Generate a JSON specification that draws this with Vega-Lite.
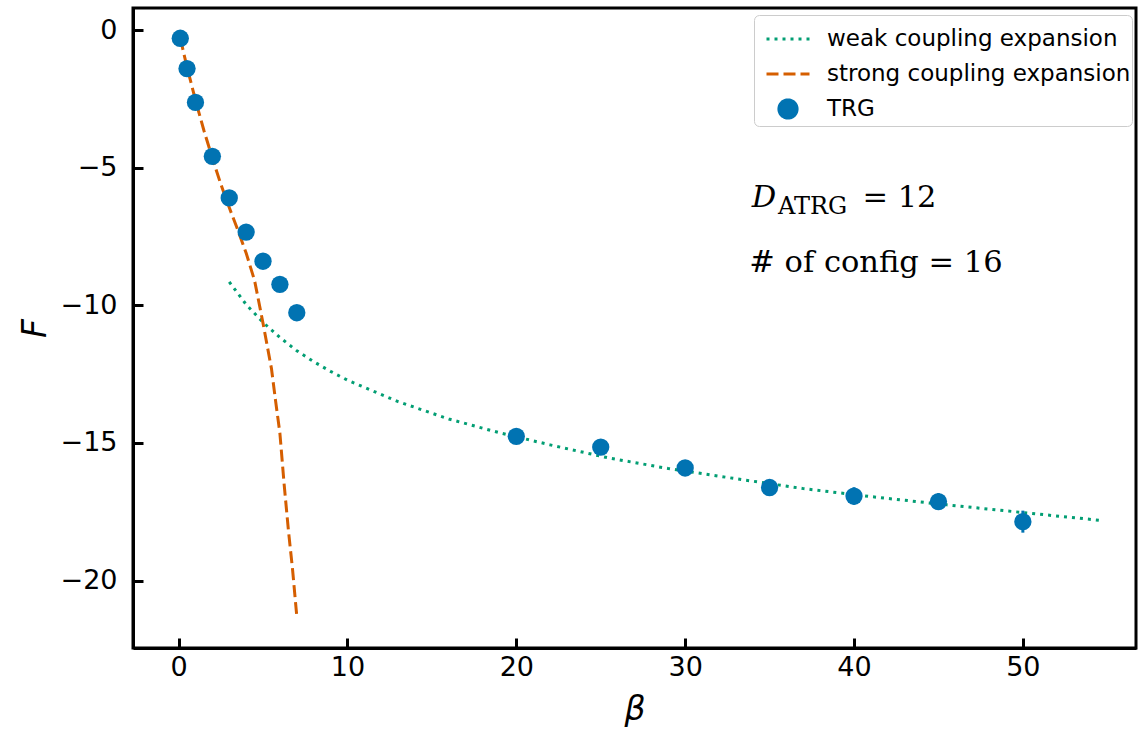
{
  "$schema": "https://vega.github.io/schema/vega-lite/v6.json",
  "width": 1003,
  "height": 640,
  "autosize": {"type": "none"},
  "padding": {"left": 133, "top": 8, "right": 2, "bottom": 84},
  "background": "white",
  "config": {
    "view": {"stroke": "black", "strokeWidth": 3},
    "axis": {
      "grid": false,
      "domainColor": "black",
      "domainWidth": 3,
      "tickColor": "black",
      "tickWidth": 3,
      "tickSize": -10,
      "labelFont": "DejaVu Sans",
      "labelFontSize": 27,
      "labelColor": "black",
      "labelExpr": "replace(datum.label, '-', '\u2212')",
      "titleFont": "DejaVu Sans",
      "titleFontSize": 33,
      "titleFontWeight": "normal",
      "titleFontStyle": "italic",
      "titleColor": "black"
    }
  },
  "datasets": {
    "weak": [
      {"beta": 3.0, "F": -9.15, "series": "weak coupling expansion"},
      {"beta": 4.0, "F": -9.97, "series": "weak coupling expansion"},
      {"beta": 5.0, "F": -10.62, "series": "weak coupling expansion"},
      {"beta": 6.0, "F": -11.17, "series": "weak coupling expansion"},
      {"beta": 7.0, "F": -11.65, "series": "weak coupling expansion"},
      {"beta": 8.0, "F": -12.05, "series": "weak coupling expansion"},
      {"beta": 9.0, "F": -12.4, "series": "weak coupling expansion"},
      {"beta": 10.0, "F": -12.72, "series": "weak coupling expansion"},
      {"beta": 13.0, "F": -13.5, "series": "weak coupling expansion"},
      {"beta": 16.0, "F": -14.13, "series": "weak coupling expansion"},
      {"beta": 19.0, "F": -14.63, "series": "weak coupling expansion"},
      {"beta": 22.0, "F": -15.07, "series": "weak coupling expansion"},
      {"beta": 25.5, "F": -15.55, "series": "weak coupling expansion"},
      {"beta": 29.0, "F": -15.93, "series": "weak coupling expansion"},
      {"beta": 33.0, "F": -16.3, "series": "weak coupling expansion"},
      {"beta": 37.0, "F": -16.66, "series": "weak coupling expansion"},
      {"beta": 41.0, "F": -16.95, "series": "weak coupling expansion"},
      {"beta": 45.5, "F": -17.25, "series": "weak coupling expansion"},
      {"beta": 50.5, "F": -17.56, "series": "weak coupling expansion"},
      {"beta": 54.7, "F": -17.82, "series": "weak coupling expansion"}
    ],
    "strong": [
      {"beta": 0.1, "F": -0.3, "series": "strong coupling expansion"},
      {"beta": 0.5, "F": -1.35, "series": "strong coupling expansion"},
      {"beta": 1.0, "F": -2.55, "series": "strong coupling expansion"},
      {"beta": 1.5, "F": -3.65, "series": "strong coupling expansion"},
      {"beta": 2.0, "F": -4.65, "series": "strong coupling expansion"},
      {"beta": 2.5, "F": -5.6, "series": "strong coupling expansion"},
      {"beta": 3.0, "F": -6.45, "series": "strong coupling expansion"},
      {"beta": 3.5, "F": -7.25, "series": "strong coupling expansion"},
      {"beta": 4.0, "F": -8.1, "series": "strong coupling expansion"},
      {"beta": 4.5, "F": -9.1, "series": "strong coupling expansion"},
      {"beta": 5.0, "F": -10.65, "series": "strong coupling expansion"},
      {"beta": 5.5, "F": -12.3, "series": "strong coupling expansion"},
      {"beta": 5.75, "F": -13.5, "series": "strong coupling expansion"},
      {"beta": 6.0, "F": -14.65, "series": "strong coupling expansion"},
      {"beta": 6.25, "F": -16.5, "series": "strong coupling expansion"},
      {"beta": 6.5, "F": -18.15, "series": "strong coupling expansion"},
      {"beta": 6.75, "F": -19.6, "series": "strong coupling expansion"},
      {"beta": 7.0, "F": -21.3, "series": "strong coupling expansion"}
    ],
    "trg": [
      {"beta": 0.1, "F": -0.3, "lo": -0.35, "hi": -0.25, "series": "TRG"},
      {"beta": 0.5, "F": -1.4, "lo": -1.45, "hi": -1.35, "series": "TRG"},
      {"beta": 1.0, "F": -2.63, "lo": -2.7, "hi": -2.56, "series": "TRG"},
      {"beta": 2.0, "F": -4.59, "lo": -4.67, "hi": -4.51, "series": "TRG"},
      {"beta": 3.0, "F": -6.1, "lo": -6.2, "hi": -6.0, "series": "TRG"},
      {"beta": 4.0, "F": -7.34, "lo": -7.45, "hi": -7.23, "series": "TRG"},
      {"beta": 5.0, "F": -8.4, "lo": -8.52, "hi": -8.28, "series": "TRG"},
      {"beta": 6.0, "F": -9.24, "lo": -9.37, "hi": -9.11, "series": "TRG"},
      {"beta": 7.0, "F": -10.27, "lo": -10.4, "hi": -10.14, "series": "TRG"},
      {"beta": 20.0, "F": -14.76, "lo": -14.96, "hi": -14.56, "series": "TRG"},
      {"beta": 25.0, "F": -15.15, "lo": -15.37, "hi": -14.93, "series": "TRG"},
      {"beta": 30.0, "F": -15.91, "lo": -16.14, "hi": -15.68, "series": "TRG"},
      {"beta": 35.0, "F": -16.62, "lo": -16.87, "hi": -16.37, "series": "TRG"},
      {"beta": 40.0, "F": -16.93, "lo": -17.25, "hi": -16.61, "series": "TRG"},
      {"beta": 45.0, "F": -17.13, "lo": -17.43, "hi": -16.83, "series": "TRG"},
      {"beta": 50.0, "F": -17.86, "lo": -18.26, "hi": -17.46, "series": "TRG"}
    ],
    "notesItalic": [
      {"beta": 33.95, "F": -6.42, "text": "D"}
    ],
    "notesSub": [
      {"beta": 35.5, "F": -6.68, "text": "ATRG"}
    ],
    "notesPlain": [
      {"beta": 40.5, "F": -6.42, "text": "= 12"},
      {"beta": 33.8, "F": -8.8, "text": "# of config = 16"}
    ]
  },
  "layer": [
    {
      "data": {"name": "weak"},
      "mark": {"type": "line", "strokeWidth": 3, "strokeDash": [3, 5], "strokeCap": "butt", "clip": true},
      "encoding": {
        "x": {"field": "beta", "type": "quantitative", "scale": {"domain": [-2.7, 56.7], "nice": false, "zero": false},
          "axis": {"values": [0, 10, 20, 30, 40, 50], "title": "β", "labelPadding": 16, "titlePadding": 13}},
        "y": {"field": "F", "type": "quantitative", "scale": {"domain": [-22.45, 0.8], "nice": false, "zero": false},
          "axis": {"values": [-20, -15, -10, -5, 0], "title": "F", "labelPadding": 26, "titlePadding": 8}},
        "color": {"field": "series", "type": "nominal",
          "scale": {"domain": ["weak coupling expansion", "strong coupling expansion", "TRG"], "range": ["#029E73", "#D55E00", "#0173B2"]},
          "legend": {
            "title": null,
            "orient": "none",
            "legendX": 621,
            "legendY": 7,
            "padding": 1,
            "fillColor": "white",
            "strokeColor": "#cccccc",
            "cornerRadius": 5,
            "labelFont": "DejaVu Sans",
            "labelFontSize": 23,
            "labelColor": "black",
            "labelLimit": 600,
            "symbolSize": 400,
            "symbolOffset": 10,
            "labelOffset": 16,
            "rowPadding": 0,
            "symbolStrokeWidth": 3,
            "encode": {
              "symbols": {
                "update": {
                  "shape": {"signal": "datum.value === 'TRG' ? 'circle' : 'stroke'"},
                  "size": {"signal": "datum.value === 'TRG' ? 330 : 1849"},
                  "fill": {"signal": "datum.value === 'TRG' ? '#0173B2' : 'transparent'"},
                  "stroke": {"signal": "datum.value === 'TRG' ? '#0173B2' : datum.value === 'weak coupling expansion' ? '#029E73' : '#D55E00'"},
                  "strokeDash": {"signal": "datum.value === 'weak coupling expansion' ? [3, 5] : datum.value === 'strong coupling expansion' ? [12, 5] : [1, 0]"},
                  "strokeWidth": {"value": 3},
                  "opacity": {"value": 1}
                }
              }
            }
          }
        }
      }
    },
    {
      "data": {"name": "strong"},
      "mark": {"type": "line", "strokeWidth": 3, "strokeDash": [12, 5], "strokeCap": "butt", "clip": true},
      "encoding": {
        "x": {"field": "beta", "type": "quantitative"},
        "y": {"field": "F", "type": "quantitative"},
        "color": {"field": "series", "type": "nominal"}
      }
    },
    {
      "data": {"name": "trg"},
      "mark": {"type": "rule", "strokeWidth": 3},
      "encoding": {
        "x": {"field": "beta", "type": "quantitative"},
        "y": {"field": "lo", "type": "quantitative"},
        "y2": {"field": "hi"},
        "color": {"field": "series", "type": "nominal"}
      }
    },
    {
      "data": {"name": "trg"},
      "mark": {"type": "point", "filled": true, "size": 300, "opacity": 1, "shape": "circle"},
      "encoding": {
        "x": {"field": "beta", "type": "quantitative"},
        "y": {"field": "F", "type": "quantitative"},
        "color": {"field": "series", "type": "nominal"}
      }
    },
    {
      "data": {"name": "notesItalic"},
      "mark": {"type": "text", "font": "DejaVu Serif", "fontSize": 30.5, "fontStyle": "italic", "align": "left", "baseline": "alphabetic", "color": "black"},
      "encoding": {
        "x": {"field": "beta", "type": "quantitative"},
        "y": {"field": "F", "type": "quantitative"},
        "text": {"field": "text"}
      }
    },
    {
      "data": {"name": "notesSub"},
      "mark": {"type": "text", "font": "DejaVu Serif", "fontSize": 24, "align": "left", "baseline": "alphabetic", "color": "black"},
      "encoding": {
        "x": {"field": "beta", "type": "quantitative"},
        "y": {"field": "F", "type": "quantitative"},
        "text": {"field": "text"}
      }
    },
    {
      "data": {"name": "notesPlain"},
      "mark": {"type": "text", "font": "DejaVu Serif", "fontSize": 30.5, "align": "left", "baseline": "alphabetic", "color": "black"},
      "encoding": {
        "x": {"field": "beta", "type": "quantitative"},
        "y": {"field": "F", "type": "quantitative"},
        "text": {"field": "text"}
      }
    }
  ]
}
